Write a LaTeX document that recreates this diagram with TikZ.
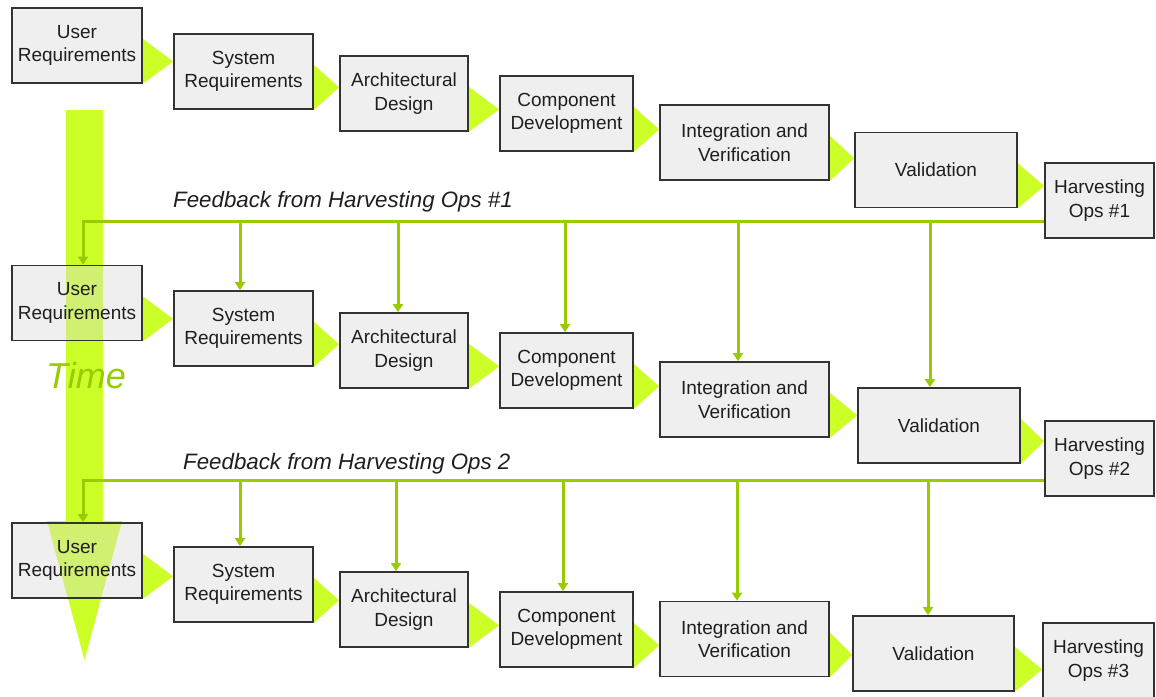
\documentclass[tikz,border=0pt]{standalone}
\usepackage{fontspec}
\setmainfont{Liberation Sans}
\usepackage{tikz}
\usetikzlibrary{arrows.meta,backgrounds}
\definecolor{limefill}{RGB}{204,255,40}
\definecolor{fbgreen}{RGB}{153,204,0}
\definecolor{txtdark}{RGB}{30,30,30}

\begin{document}
\begin{tikzpicture}[x=1pt,y=-1pt,
	phase/.style={draw=black!80,line width=1.7pt,fill=black!15,fill opacity=0.41,text opacity=1,text=txtdark,
		inner sep=0pt,minimum height=75pt,align=center,font=\fontsize{19}{23.5}\selectfont},
	chev/.style={fill=limefill},
	fb/.style={draw=fbgreen,line width=3pt,-{Triangle[length=8pt,width=10pt]}},
	fblabel/.style={anchor=base west,inner sep=0pt,text=txtdark,font=\fontsize{22.3}{26}\selectfont\itshape}]
	\useasboundingbox (0,0) rectangle (1156,696);
	% time arrow
	\fill[limefill] (66,110) -- (103,110) -- (103,521) -- (122,521) -- (84.5,660) -- (47,521) -- (66,521) -- cycle;
	\node[text=fbgreen,font=\fontsize{36}{42}\selectfont\itshape] (time) at (86,376) {Time};
	% pass 1
	\node[phase,minimum width=130pt] (ur1) at (77,45.5) {User\\Requirements};
	\node[phase,minimum width=139pt] (sr1) at (243.5,71.5) {System\\Requirements};
	\node[phase,minimum width=128pt] (ad1) at (404,93.5) {Architectural\\Design};
	\node[phase,minimum width=133pt] (cd1) at (566.5,113.5) {Component\\Development};
	\node[phase,minimum width=169pt] (iv1) at (744.5,142.5) {Integration and\\Verification};
	\node[phase,minimum width=162pt] (va1) at (936,170) {Validation};
	\node[phase,minimum width=109pt] (ho1) at (1099.5,200.5) {Harvesting\\Ops \#1};
	% pass 2
	\node[phase,minimum width=130pt] (ur2) at (77,303) {User\\Requirements};
	\node[phase,minimum width=139pt] (sr2) at (243.5,328.5) {System\\Requirements};
	\node[phase,minimum width=128pt] (ad2) at (404,350.5) {Architectural\\Design};
	\node[phase,minimum width=133pt] (cd2) at (566.5,370.5) {Component\\Development};
	\node[phase,minimum width=169pt] (iv2) at (744.5,399.5) {Integration and\\Verification};
	\node[phase,minimum width=162pt] (va2) at (939,425.5) {Validation};
	\node[phase,minimum width=109pt] (ho2) at (1099.5,458.5) {Harvesting\\Ops \#2};
	% pass 3
	\node[phase,minimum width=130pt] (ur3) at (77,560.5) {User\\Requirements};
	\node[phase,minimum width=139pt] (sr3) at (243.5,584.5) {System\\Requirements};
	\node[phase,minimum width=128pt] (ad3) at (404,609.5) {Architectural\\Design};
	\node[phase,minimum width=133pt] (cd3) at (566.5,629.5) {Component\\Development};
	\node[phase,minimum width=169pt] (iv3) at (744.5,639) {Integration and\\Verification};
	\node[phase,minimum width=161pt] (va3) at (933.5,653.5) {Validation};
	\node[phase,minimum width=111pt] (ho3) at (1098.5,660.5) {Harvesting\\Ops \#3};
	% green chevrons between phases
	\begin{scope}[on background layer]
		\foreach \a/\b in {ur1/sr1,sr1/ad1,ad1/cd1,cd1/iv1,iv1/va1,va1/ho1,
			ur2/sr2,sr2/ad2,ad2/cd2,cd2/iv2,iv2/va2,va2/ho2,
			ur3/sr3,sr3/ad3,ad3/cd3,cd3/iv3,iv3/va3,va3/ho3} {
			\path (\a.south east) ++(0,-22.5) coordinate (m);
			\fill[chev] (\a.south east) -- ++(0,-45) -- (\b.west |- m) -- cycle;
		}
	\end{scope}
	% feedback 1
	\coordinate (c1) at (83,221);
	\draw[fb] (ho1.west |- c1) -| (ur2.north -| c1);
	\foreach \n/\x in {sr2/240,ad2/398,cd2/565,iv2/738,va2/930}
		\draw[fb] (\x,221) -- (\n.north -| \x,0);
	\node[fblabel] (fbl1) at (173,207) {Feedback from Harvesting Ops \#1};
	% feedback 2
	\coordinate (c2) at (83,480);
	\draw[fb] (ho2.west |- c2) -| (ur3.north -| c2);
	\foreach \n/\x in {sr3/240,ad3/396,cd3/563,iv3/737,va3/928}
		\draw[fb] (\x,480) -- (\n.north -| \x,0);
	\node[fblabel] (fbl2) at (183,469) {Feedback from Harvesting Ops 2};
\end{tikzpicture}
\end{document}
